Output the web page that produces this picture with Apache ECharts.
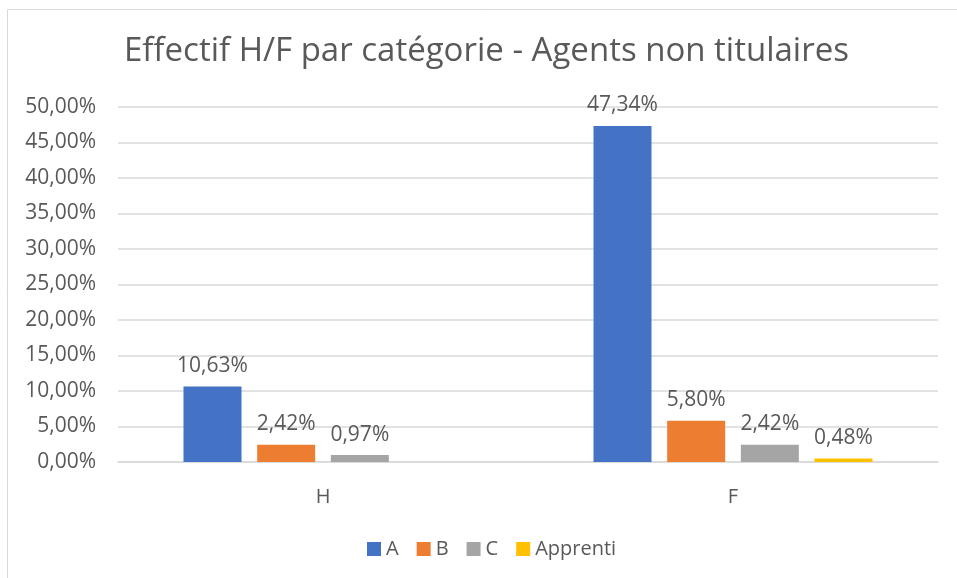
<!DOCTYPE html>
<html>
<head>
<meta charset="utf-8">
<script src="https://cdn.jsdelivr.net/npm/echarts@6/dist/echarts.min.js"></script>
<style>
html, body { margin: 0; padding: 0; background: #fff; }
#chart { width: 957px; height: 578px; }
</style>
</head>
<body>
<div id="chart"></div>
<script>
var categories = ['H', 'F'];
var seriesNames = ['A', 'B', 'C', 'Apprenti'];
var valuesA = [10.63, 47.34];
var valuesB = [2.42, 5.80];
var valuesC = [0.97, 2.42];
var valuesApprenti = [null, 0.48];
var colors = ['#4472C4', '#ED7D31', '#A5A5A5', '#FFC000'];

var textColor = '#595959';
var fontName = 'Open Sans';

function pct(v) {
    return v.toFixed(2).replace('.', ',') + '%';
}

function makeSeries(name, data) {
    return {
        name: name,
        type: 'bar',
        barWidth: 58,
        barGap: '27%',
        data: data,
        label: {
            show: true,
            position: 'top',
            distance: 10,
            color: textColor,
            fontFamily: fontName,
            fontSize: 21,
            formatter: function (p) {
                return pct(p.value);
            }
        }
    };
}

var chart = echarts.init(document.getElementById('chart'));
var option = {
    animation: false,
    color: colors,
    textStyle: { fontFamily: fontName },
    graphic: [{
        type: 'rect',
        shape: { x: 7.5, y: 9.5, width: 1000, height: 1000 },
        style: { fill: 'none', stroke: '#D9D9D9', lineWidth: 1 }
    }],
    title: {
        text: 'Effectif H/F par catégorie - Agents non titulaires',
        left: 124,
        top: 35,
        padding: 0,
        textStyle: {
            color: textColor,
            fontFamily: fontName,
            fontSize: 33,
            fontWeight: 'normal'
        }
    },
    legend: {
        data: seriesNames,
        bottom: 14,
        left: 362,
        itemWidth: 14,
        itemHeight: 14,
        itemGap: 18,
        icon: 'rect',
        textStyle: { color: textColor, fontFamily: fontName, fontSize: 20 }
    },
    grid: {
        left: 118,
        right: 19,
        top: 107,
        bottom: 116
    },
    xAxis: {
        type: 'category',
        data: categories,
        axisTick: { show: false },
        axisLine: { lineStyle: { color: '#D9D9D9', width: 1.5 } },
        axisLabel: {
            color: textColor,
            fontFamily: fontName,
            fontSize: 20,
            margin: 25
        }
    },
    yAxis: {
        type: 'value',
        min: 0,
        max: 50,
        interval: 5,
        axisLine: { show: false },
        axisTick: { show: false },
        splitLine: { lineStyle: { color: '#D9D9D9', width: 1.5 } },
        axisLabel: {
            color: textColor,
            fontFamily: fontName,
            fontSize: 21,
            margin: 22,
            formatter: function (v) {
                return pct(v);
            }
        }
    },
    series: [
        makeSeries('A', valuesA),
        makeSeries('B', valuesB),
        makeSeries('C', valuesC),
        makeSeries('Apprenti', valuesApprenti)
    ]
};
chart.setOption(option);
</script>
</body>
</html>
